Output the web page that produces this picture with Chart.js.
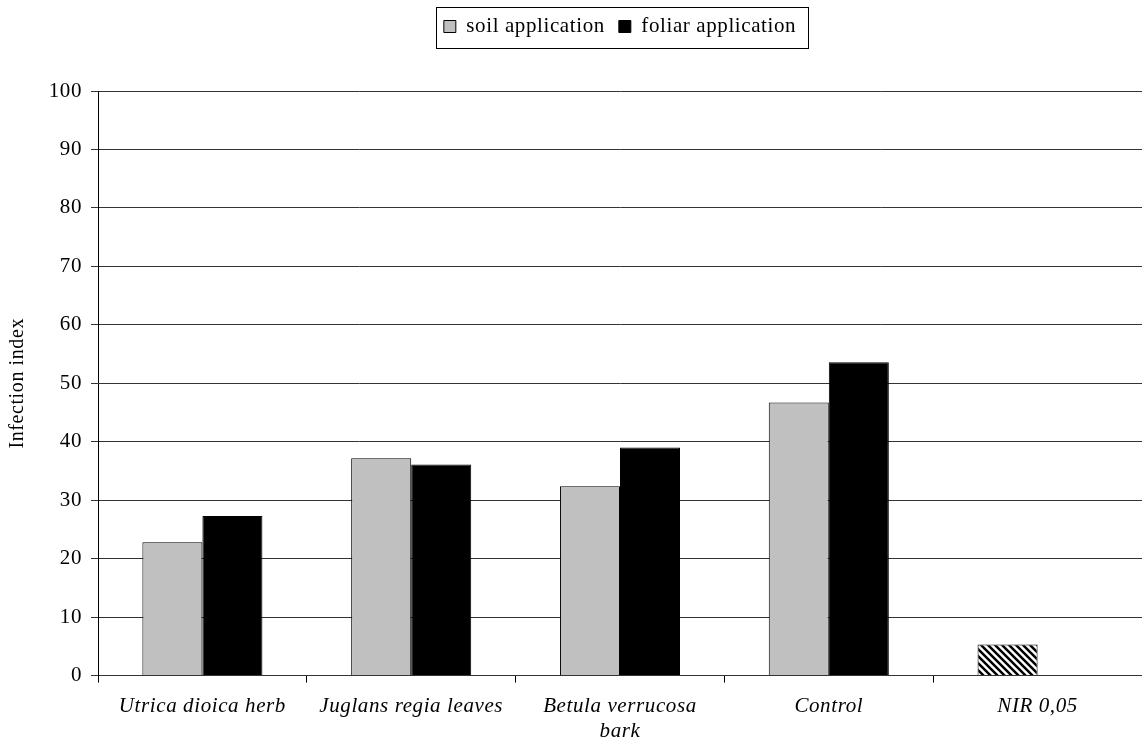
<!DOCTYPE html>
<html>
<head>
<meta charset="utf-8">
<script src="https://cdn.jsdelivr.net/npm/chart.js@4"></script>
<style>
  html, body { margin: 0; padding: 0; background: #fff; }
  #wrap { width: 1142px; height: 746px; }
</style>
</head>
<body>
<div id="wrap"><canvas id="barChart"></canvas></div>
<script>
const categories = [
    'Utrica dioica herb',
    'Juglans regia leaves',
    ['Betula verrucosa', 'bark'],
    'Control',
    'NIR 0,05'
];
const soilValues = [22.8, 37.2, 32.4, 46.7, 5.3];
const foliarValues = [27.3, 36.1, 39.0, 53.6, null];
const yTicks = [0, 10, 20, 30, 40, 50, 60, 70, 80, 90, 100];

// diagonal hatch for the NIR bar
function makeHatch() {
    const c = document.createElement('canvas');
    c.width = 7; c.height = 7;
    const g = c.getContext('2d');
    g.fillStyle = '#fff';
    g.fillRect(0, 0, 7, 7);
    g.strokeStyle = '#000';
    g.lineWidth = 2.5;
    g.beginPath();
    g.moveTo(-2, -2); g.lineTo(9, 9);
    g.moveTo(-2, 5); g.lineTo(2, 9);
    g.moveTo(5, -2); g.lineTo(9, 2);
    g.stroke();
    return g.createPattern(c, 'repeat');
}
const hatch = makeHatch();

// the original text is slightly letter-spaced
const spacing = {
    id: 'spacing',
    beforeUpdate(chart) { chart.ctx.letterSpacing = '0.6px'; },
    beforeDraw(chart) { chart.ctx.letterSpacing = '0.6px'; }
};

// frame around the legend
const legendBox = {
    id: 'legendBox',
    afterDraw(chart) {
        const boxes = chart.legend.legendHitBoxes;
        if (!boxes || !boxes.length) return;
        let l = Infinity, r = -Infinity, t = Infinity, b = -Infinity;
        boxes.forEach(h => {
            l = Math.min(l, h.left); r = Math.max(r, h.left + h.width);
            t = Math.min(t, h.top); b = Math.max(b, h.top + h.height);
        });
        const ctx = chart.ctx;
        ctx.save();
        ctx.strokeStyle = '#000';
        ctx.lineWidth = 1;
        ctx.strokeRect(Math.round(l - 8) + 0.5, Math.round(t - 9) + 0.5, Math.round(r - l + 20), Math.round(b - t + 20));
        ctx.restore();
    }
};

const data = {
    labels: categories,
    datasets: [{
        label: 'soil application',
        data: soilValues,
        backgroundColor: soilValues.map((v, i) => i === 4 ? hatch : '#c0c0c0'),
        borderColor: '#000',
        borderWidth: 1
    }, {
        label: 'foliar application',
        data: foliarValues,
        backgroundColor: '#000',
        borderColor: '#000',
        borderWidth: 1
    }]
};

const config = {
    type: 'bar',
    data,
    options: {
        responsive: true,
        maintainAspectRatio: false,
        animation: false,
        devicePixelRatio: 1,
        layout: { padding: { top: 2, right: 0, bottom: 3, left: 0 } },
        datasets: { bar: { categoryPercentage: 0.575, barPercentage: 1 } },
        plugins: {
            tooltip: { enabled: false },
            legend: {
                position: 'top',
                fullSize: false,
                labels: {
                    color: '#000',
                    font: { family: 'Liberation Serif', size: 21 },
                    boxWidth: 12,
                    boxHeight: 12,
                    padding: 14
                }
            },
            // empty spacer between legend and plot
            subtitle: {
                display: true,
                text: '',
                weight: 500,
                font: { size: 10, lineHeight: 1 },
                padding: { top: 0, bottom: 34 }
            }
        },
        scales: {
            x: {
                afterFit: scale => { scale.height = scale.height - 12; },
                grid: { drawOnChartArea: false, drawTicks: true, tickLength: 7, color: '#000' },
                border: { display: true, color: '#333', width: 1 },
                ticks: {
                    color: '#000',
                    font: { family: 'Liberation Serif', size: 21, style: 'italic' },
                    maxRotation: 0,
                    padding: 11
                }
            },
            y: {
                min: 0,
                max: 100,
                afterBuildTicks: scale => { scale.ticks = yTicks.map(v => ({ value: v })); },
                afterFit: scale => { scale.width = 98; },
                grid: { color: '#333', tickLength: 7 },
                border: { display: true, color: '#000', width: 1 },
                ticks: {
                    color: '#000',
                    font: { family: 'Liberation Serif', size: 21 },
                    padding: 9
                },
                title: {
                    display: true,
                    text: 'Infection index',
                    color: '#000',
                    font: { family: 'Liberation Serif', size: 20 },
                    padding: { top: 6, bottom: 0 }
                }
            }
        }
    },
    plugins: [spacing, legendBox]
};

var myChart = new Chart(document.getElementById('barChart'), config);
</script>
</body>
</html>
